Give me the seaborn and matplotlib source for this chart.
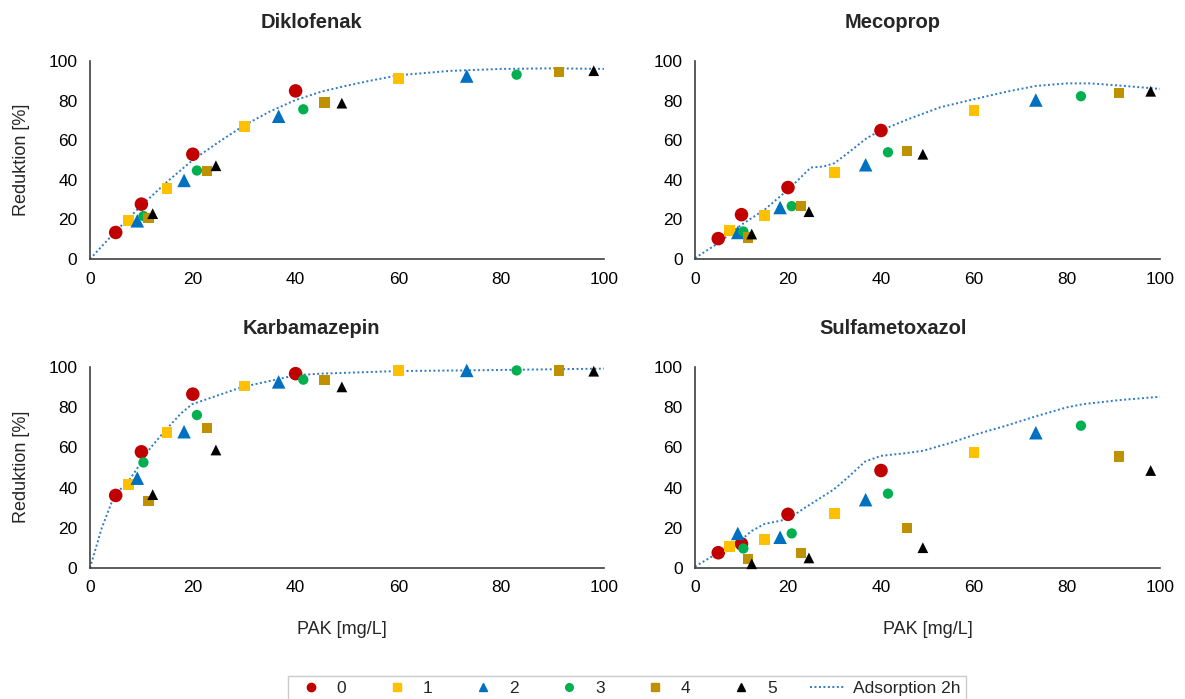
import numpy as np
import pandas as pd
import matplotlib
matplotlib.use("Agg")
import matplotlib.pyplot as plt
from matplotlib.lines import Line2D
import seaborn as sns

# PAK dose per series (shared by all four substances)
x_series = {
    "0": [5, 10, 20, 40],
    "1": [7.5, 15, 30, 60],
    "2": [9.2, 18.3, 36.7, 73.3],
    "3": [10.4, 20.8, 41.5, 83],
    "4": [11.4, 22.8, 45.6, 91.2],
    "5": [12.2, 24.5, 49, 98],
}

titles = ["Diklofenak", "Mecoprop", "Karbamazepin", "Sulfametoxazol"]

# reduction [%] per substance and series
dik = {
    "0": [13.4, 27.7, 52.9, 84.9],
    "1": [19.5, 35.6, 67.1, 91.1],
    "2": [19.3, 39.7, 72.1, 92.4],
    "3": [21.7, 44.7, 75.6, 93.1],
    "4": [20.7, 44.4, 79.0, 94.6],
    "5": [22.9, 47.1, 78.7, 95.1],
}
mec = {
    "0": [10.3, 22.4, 36.1, 64.9],
    "1": [14.3, 22.0, 43.7, 75.0],
    "2": [13.4, 26.0, 47.6, 80.3],
    "3": [13.9, 26.7, 53.9, 82.2],
    "4": [10.9, 26.7, 54.5, 83.7],
    "5": [12.6, 23.9, 52.9, 84.7],
}
kar = {
    "0": [36.1, 57.8, 86.5, 96.7],
    "1": [41.7, 67.5, 90.6, 98.3],
    "2": [44.7, 67.8, 92.6, 98.3],
    "3": [52.5, 76.1, 93.7, 98.3],
    "4": [33.2, 69.8, 93.7, 98.3],
    "5": [36.5, 58.7, 90.1, 97.9],
}
sul = {
    "0": [7.6, 12.0, 26.7, 48.5],
    "1": [10.6, 14.2, 27.1, 57.4],
    "2": [17.2, 15.3, 34.0, 67.3],
    "3": [9.7, 17.2, 37.0, 70.8],
    "4": [4.6, 7.4, 19.8, 55.4],
    "5": [2.1, 5.0, 10.1, 48.5],
}

# Adsorption 2h model curves
dik_cx = [0, 5, 10, 15, 20, 25, 30, 35, 40, 45, 50, 55, 60, 70, 80, 90, 100]
dik_cy = [0, 14, 27, 39, 50, 59, 67.5, 74.5, 80.3, 84.5, 87.6, 90.3, 92.8, 95, 96, 96.3, 96]
mec_cx = [0, 5, 10, 15, 20, 23.3, 24.9, 27.6, 30, 33.3, 36.9, 40, 45.5, 52.7, 60, 67, 73.3, 80, 85, 91.3, 100]
mec_cy = [0.5, 8, 17.3, 25, 35, 42.5, 46.2, 46.7, 48.4, 54.3, 61, 65, 70.3, 76.6, 80.7, 84.5, 87.4, 88.7, 88.7, 87.6, 85.9]
kar_cx = [0, 2.3, 4.8, 7.2, 9, 11.7, 14.7, 17.7, 19.8, 25, 29.7, 36.5, 40, 45, 60, 73, 100]
kar_cy = [0, 20, 36.5, 42.2, 48.8, 59.6, 68.6, 76.9, 81.4, 86, 90.1, 93.9, 95.9, 96.7, 98, 98.3, 99.2]
sul_cx = [0, 5, 7.4, 9.9, 12.1, 14.9, 17.9, 20, 23.6, 29.8, 32.7, 36.6, 40, 45.2, 49, 54.6, 60, 66.9, 73.5, 79.9, 83.4, 91.1, 100]
sul_cy = [0.7, 7.6, 10.9, 13.9, 18.3, 21.9, 23.3, 24.4, 29.9, 39, 44.7, 53, 55.8, 57.1, 58.3, 62, 66.2, 70.8, 75.6, 79.9, 81.5, 83.5, 85.2]

panels = [(dik, dik_cx, dik_cy), (mec, mec_cx, mec_cy), (kar, kar_cx, kar_cy), (sul, sul_cx, sul_cy)]

colors = {"0": "#C00000", "1": "#FFC000", "2": "#0070C0", "3": "#00B050", "4": "#BF9000", "5": "#000000"}
markers = {"0": "o", "1": "s", "2": "^", "3": "o", "4": "s", "5": "^"}
sizes = {"0": 95, "1": 60, "2": 95, "3": 55, "4": 55, "5": 60}
line_color = "#2E7BC4"

sns.set_style("white")
plt.rcParams["font.family"] = ["Liberation Sans", "DejaVu Sans"]

W, H = 1185, 699
fig = plt.figure(figsize=(W / 100, H / 100), dpi=100)

# pixel boxes: left, right, top(=100), bottom(=0)
boxes = [(90, 604, 61, 259), (695, 1160, 61, 259), (90, 604, 367, 568), (695, 1160, 367, 568)]
title_pos = [(311, 22), (893, 22), (311, 328), (893, 328)]

for i, ((vals, cx, cy), (l, r, t, b)) in enumerate(zip(panels, boxes)):
    ax = fig.add_axes([l / W, 1 - b / H, (r - l) / W, (b - t) / H])
    sns.lineplot(x=cx, y=cy, ax=ax, color=line_color, lw=1.4,
                 linestyle=(0, (1, 1.3)), sort=False, zorder=1)
    for k in x_series:
        df = pd.DataFrame({"x": x_series[k], "y": vals[k]})
        sns.scatterplot(data=df, x="x", y="y", ax=ax, color=colors[k],
                        marker=markers[k], s=sizes[k], edgecolor="none",
                        zorder=3, clip_on=False)
    ax.set_xlim(0, 100)
    ax.set_ylim(0, 100)
    ax.set_xticks(range(0, 101, 20))
    ax.set_yticks(range(0, 101, 20))
    ax.set_xlabel("")
    ax.set_ylabel("")
    sns.despine(ax=ax)
    for s in ["left", "bottom"]:
        ax.spines[s].set_color("#404040")
        ax.spines[s].set_linewidth(1.2)
    ax.tick_params(axis="both", direction="out", length=5, width=1.1,
                   color="#404040", labelsize=12.5, labelcolor="black", pad=4)
    tx, ty = title_pos[i]
    fig.text(tx / W, 1 - ty / H, titles[i], ha="center", va="center",
             fontsize=14.5, fontweight="bold")

# y labels and x labels
for yc in [160, 467]:
    fig.text(22 / W, 1 - yc / H, "Reduktion [%]", rotation=90, ha="center",
             va="center", fontsize=13)
for xc in [342, 928]:
    fig.text(xc / W, 1 - 629 / H, "PAK [mg/L]", ha="center", va="center",
             fontsize=13)

handles = [Line2D([], [], linestyle="none", marker=markers[k], color=colors[k],
                  markersize=6 if k in ("0", "2") else 5.5) for k in x_series]
handles.append(Line2D([], [], color=line_color, lw=1.4, linestyle=(0, (1, 1.3))))
labels = list(x_series.keys()) + ["Adsorption 2h"]
leg = fig.legend(handles, labels, loc="upper center", bbox_to_anchor=(627 / W, 1 - 667 / H),
                 ncol=7, frameon=True, fancybox=False, fontsize=12.5,
                 columnspacing=1.9, handlelength=2.0, handletextpad=0.5,
                 borderpad=0.3)
leg.get_frame().set_edgecolor("#BFBFBF")
leg.get_frame().set_linewidth(1.0)

fig.savefig("out.png", dpi=100)
